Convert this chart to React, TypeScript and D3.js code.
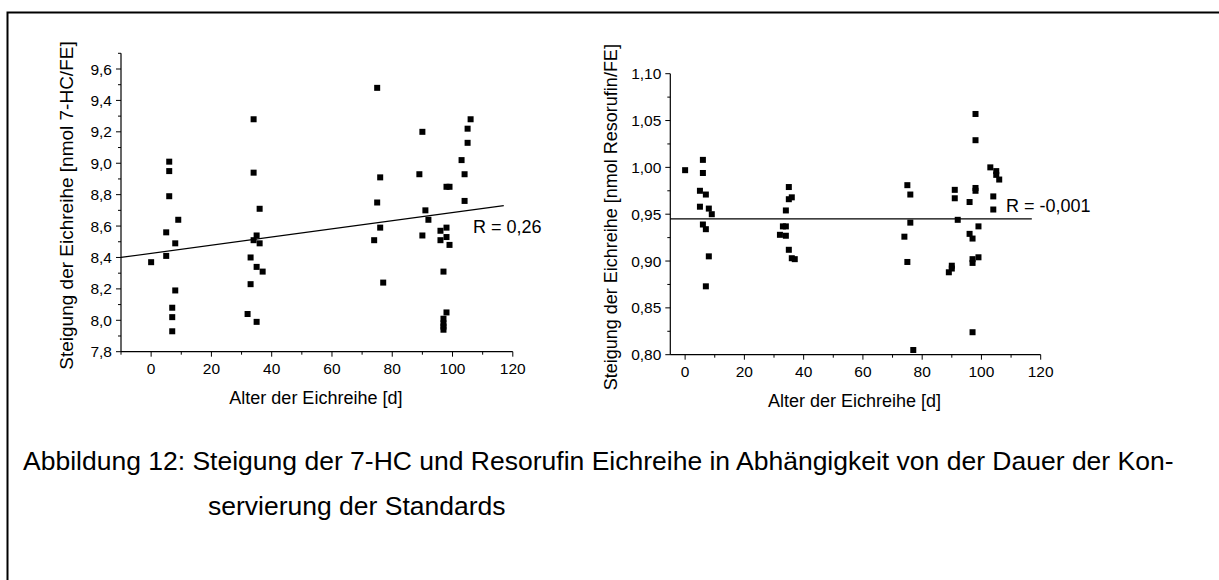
import React from 'react';
import * as d3 from 'd3';

// Alter der Eichreihe [d] / Steigung 7-HC
const hcAge = [0, 6, 6, 6, 9, 5, 8, 5, 8, 7, 7, 7,
  34, 34, 36, 35, 34, 36, 33, 35, 37, 33, 32, 35,
  75, 106, 105, 90, 105, 103, 89, 104, 76, 98, 99, 75, 104, 91, 92, 76, 98, 96, 90, 74, 96, 98, 99, 97, 77, 98, 97, 97, 97, 97];
const hcSlope = [8.37, 9.01, 8.95, 8.79, 8.64, 8.56, 8.49, 8.41, 8.19, 8.08, 8.02, 7.93,
  9.28, 8.94, 8.71, 8.54, 8.51, 8.49, 8.40, 8.34, 8.31, 8.23, 8.04, 7.99,
  9.48, 9.28, 9.22, 9.20, 9.13, 9.02, 8.93, 8.93, 8.91, 8.85, 8.85, 8.75, 8.76, 8.70, 8.64, 8.59, 8.59, 8.57, 8.54, 8.51, 8.51, 8.53, 8.48, 8.31, 8.24, 8.05, 8.01, 7.98, 7.96, 7.94];
const hcFit = [[-10, 8.40], [117, 8.73]];

// Steigung Resorufin
const resAge = [0, 6, 6, 5, 7, 5, 8, 9, 6, 7, 8, 7,
  35, 35, 36, 34, 33, 34, 32, 34, 35, 36, 37,
  98, 98, 103, 105, 105, 106, 75, 98, 98, 91, 76, 91, 104, 96, 104, 76, 92, 99, 74, 96, 97, 75, 90, 90, 89, 97, 97, 99, 97, 77];
const resSlope = [0.997, 1.008, 0.994, 0.975, 0.971, 0.958, 0.956, 0.950, 0.939, 0.934, 0.905, 0.873,
  0.979, 0.966, 0.968, 0.954, 0.937, 0.937, 0.928, 0.927, 0.912, 0.903, 0.902,
  1.057, 1.029, 1.000, 0.996, 0.992, 0.987, 0.981, 0.978, 0.975, 0.976, 0.971, 0.967, 0.969, 0.963, 0.955, 0.941, 0.944, 0.937, 0.926, 0.929, 0.924, 0.899, 0.895, 0.892, 0.888, 0.902, 0.898, 0.904, 0.824, 0.805];
const resFit = [[-5, 0.945], [117, 0.945]];

const xMajor = [0, 20, 40, 60, 80, 100, 120];
const hcYMajor = [7.8, 8.0, 8.2, 8.4, 8.6, 8.8, 9.0, 9.2, 9.4, 9.6];
const resYMajor = [0.80, 0.85, 0.90, 0.95, 1.00, 1.05, 1.10];

const FONT = 'Liberation Sans, Arial, sans-serif';
const fmt = (d: number, digits: number) => d.toFixed(digits).replace('.', ',');

type PanelProps = {
  ages: number[];
  slopes: number[];
  fit: number[][];
  xDomain: [number, number];
  xRange: [number, number];
  yDomain: [number, number];
  yRange: [number, number];
  yMajor: number[];
  yMinorStep: number;
  yDigits: number;
  yTitle: string;
  yTitleX: number;
  yTitleSize: number;
  rText: string;
  rPos: [number, number];
};

function Panel(p: PanelProps) {
  const x = d3.scaleLinear().domain(p.xDomain).range(p.xRange);
  const y = d3.scaleLinear().domain(p.yDomain).range(p.yRange);
  const x0 = p.xRange[0];
  const y0 = p.yRange[0];
  const xMinor = d3.range(10, 120, 20).filter(v => v >= p.xDomain[0]);
  if (p.xDomain[0] <= -10) xMinor.unshift(-10);
  const yMinor = d3.range(p.yDomain[0] + p.yMinorStep, p.yDomain[1] + 1e-9, p.yMinorStep * 2);
  const line = d3.line<number[]>().x(d => x(d[0])).y(d => y(d[1]));
  return (
    <g>
      {/* Achsen */}
      <line x1={x0} x2={p.xRange[1]} y1={y0} y2={y0} stroke="#000" strokeWidth={1.2} />
      <line x1={x0} x2={x0} y1={y0} y2={p.yRange[1]} stroke="#000" strokeWidth={1.2} />
      {xMajor.map(v => (
        <g key={'xm' + v}>
          <line x1={x(v)} x2={x(v)} y1={y0} y2={y0 + 5} stroke="#000" />
          <text x={x(v)} y={y0 + 22} textAnchor="middle" fontSize={15.5} fontFamily={FONT}>{v}</text>
        </g>
      ))}
      {xMinor.map(v => (
        <line key={'xn' + v} x1={x(v)} x2={x(v)} y1={y0} y2={y0 + 3} stroke="#000" />
      ))}
      {p.yMajor.map(v => (
        <g key={'ym' + v}>
          <line x1={x0 - 5} x2={x0} y1={y(v)} y2={y(v)} stroke="#000" />
          <text x={x0 - 9} y={y(v) + 5.5} textAnchor="end" fontSize={15.5} fontFamily={FONT}>{fmt(v, p.yDigits)}</text>
        </g>
      ))}
      {yMinor.map(v => (
        <line key={'yn' + v} x1={x0 - 3} x2={x0} y1={y(v)} y2={y(v)} stroke="#000" />
      ))}
      <text x={(p.xRange[0] + p.xRange[1]) / 2 - 1} y={y0 + 52} textAnchor="middle" fontSize={18} fontFamily={FONT}>
        Alter der Eichreihe [d]
      </text>
      <text transform={`translate(${p.yTitleX},${(y0 + p.yRange[1]) / 2 + 3}) rotate(-90)`} textAnchor="middle"
        fontSize={p.yTitleSize} fontFamily={FONT}>{p.yTitle}</text>
      {/* Regressionsgerade */}
      <path d={line(p.fit) || ''} fill="none" stroke="#000" strokeWidth={1.2} />
      <text x={p.rPos[0]} y={p.rPos[1]} fontSize={18} fontFamily={FONT}>{p.rText}</text>
      {/* Messpunkte */}
      {p.ages.map((a, i) => (
        <rect key={i} x={x(a) - 3} y={y(p.slopes[i]) - 3} width={6} height={6} fill="#000" />
      ))}
    </g>
  );
}

export default function App() {
  return (
    <svg width={1219} height={580} style={{ position: 'absolute', left: 0, top: 0, background: '#fff' }}>
      <rect x={0} y={0} width={1219} height={580} fill="#fff" />
      {/* Rahmen */}
      <path d="M7.5,600 V12.5 H1240" fill="none" stroke="#000" strokeWidth={2} />
      <Panel ages={hcAge} slopes={hcSlope} fit={hcFit}
        xDomain={[-10, 120]} xRange={[121, 512.8]}
        yDomain={[7.8, 9.7]} yRange={[351.7, 53.3]}
        yMajor={hcYMajor} yMinorStep={0.1} yDigits={1}
        yTitle="Steigung der Eichreihe [nmol 7-HC/FE]" yTitleX={73} yTitleSize={19}
        rText="R = 0,26" rPos={[473, 233]} />
      <Panel ages={resAge} slopes={resSlope} fit={resFit}
        xDomain={[-5, 120]} xRange={[670.3, 1040.7]}
        yDomain={[0.80, 1.10]} yRange={[354.7, 73.7]}
        yMajor={resYMajor} yMinorStep={0.025} yDigits={2}
        yTitle="Steigung der Eichreihe [nmol Resorufin/FE]" yTitleX={617} yTitleSize={18}
        rText="R = -0,001" rPos={[1006, 212]} />
      <text x={23} y={470} fontSize={26.5} fontFamily={FONT}>
        Abbildung 12: Steigung der 7-HC und Resorufin Eichreihe in Abhängigkeit von der Dauer der Kon-
      </text>
      <text x={208} y={515} fontSize={26.5} fontFamily={FONT}>servierung der Standards</text>
    </svg>
  );
}
